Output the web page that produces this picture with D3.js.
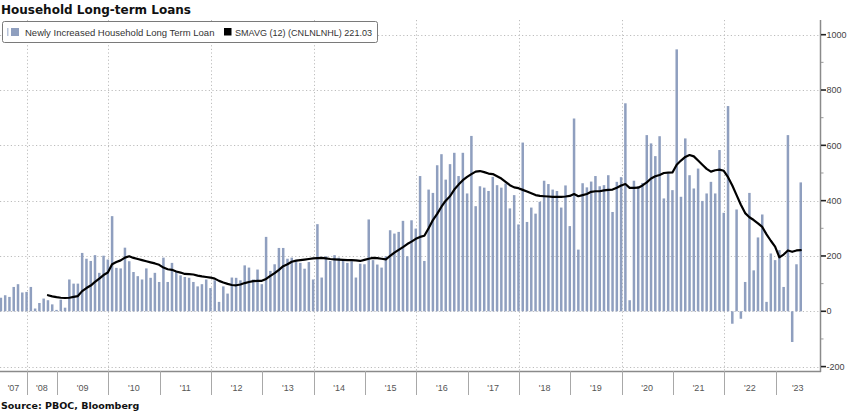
<!DOCTYPE html>
<html><head><meta charset="utf-8">
<script src="https://cdn.jsdelivr.net/npm/d3@7"></script>
<style>
body{margin:0;background:#fff;}
svg{display:block;}
</style></head><body>
<svg id="c" width="848" height="413"></svg>
<script>
// ---- data ----
const yearLabels = ["'07","'08","'09","'10","'11","'12","'13","'14","'15","'16","'17","'18","'19","'20","'21","'22","'23"];
const barsPerYear = [7,7,12,12,12,12,12,12,12,12,12,12,12,12,12,12,6];
const gridYearLabels = ["'08","'10","'12","'14","'16","'18","'20","'22"];
const loanValues = [
  49, 58, 52, 88, 98, 68, 70,                               // 2007
  88, 10, 30, 46, 40, 25, 5,                                // 2008
  42, 13, 115, 100, 100, 211, 190, 182, 203, 139, 201, 187, // 2009
  344, 157, 155, 230, 181, 142, 127, 115, 155, 121, 139, 106,
  194, 106, 175, 142, 130, 124, 121, 106, 90, 98, 115, 84,
  112, 34, 90, 64, 122, 121, 112, 166, 158, 115, 151, 98,
  269, 146, 170, 229, 229, 190, 194, 185, 175, 154, 178, 115,
  315, 122, 199, 182, 203, 194, 185, 175, 181, 122, 172, 170,
  332, 185, 169, 158, 199, 293, 281, 287, 327, 199, 329, 299,
  489, 182, 440, 428, 528, 568, 476, 532, 573, 489, 573, 426,
  634, 380, 452, 447, 435, 486, 456, 447, 462, 372, 420, 314,
  610, 323, 375, 353, 396, 472, 460, 440, 435, 375, 455, 308,
  697, 223, 463, 448, 469, 489, 452, 456, 492, 359, 468, 485,
  752, 40, 472, 452, 464, 637, 607, 561, 633, 408, 498, 438,
  947, 414, 625, 492, 444, 516, 399, 426, 468, 426, 583, 356,
  742, -45, 368, -27, 106, 428, 148, 267, 350, 34, 209, 185,
  221, 88, 637, -111, 170, 466                              // 2023
];
const smavgValues = [
  null, null, null, null, null, null, null,
  null, null, null, null, 58, 54, 51,
  49, 48, 49, 52, 55, 73, 84, 93, 106, 118, 131, 140,
  170, 178, 184, 194, 199, 193, 189, 185, 181, 177, 173, 168,
  158, 152, 150, 144, 140, 135, 134, 133, 129, 126, 124, 122,
  118, 110, 104, 99, 95, 94, 97, 102, 106, 109, 110, 110,
  117, 128, 138, 150, 163, 170, 179, 183, 185, 187, 189, 191,
  192, 193, 191, 189, 188, 187, 186, 185, 185, 184, 182, 186,
  190, 193, 192, 190, 188, 200, 212, 222, 232, 243, 252, 262,
  269, 273, 300, 330, 352, 378, 400, 416, 440, 458, 474, 486,
  496, 505, 507, 503, 498, 496, 488, 480, 468, 456, 448, 445,
  439, 433, 427, 420, 417, 416, 415, 414, 414, 414, 415, 417,
  424, 416, 420, 424, 432, 434, 434, 437, 439, 440, 447, 455,
  460, 446, 446, 447, 455, 466, 480, 488, 493, 500, 501, 502,
  530, 545, 558, 565, 560, 545, 530, 515, 505, 510, 512, 508,
  485, 455, 420, 385, 355, 340, 330, 318, 305, 278, 255, 234,
  195, 205, 220, 215, 220, 221
];
const yMajorTicks = [-200, 0, 200, 400, 600, 800, 1000];
const yMinorTicks = [-100, 100, 300, 500, 700, 900];
const titleText = "Household Long-term Loans";
const legendBarsText = "Newly Increased Household Long Term Loan";
const legendLineText = "SMAVG (12) (CNLNLNHL) 221.03";
const sourceText = "Source: PBOC, Bloomberg";

// ---- layout ----
const plotL = 0, plotR = 820, plotT = 20, plotB = 371;
const barColor = "#8f9fbf";
const svg = d3.select("#c");
svg.append("rect").attr("width", 848).attr("height", 413).attr("fill", "#fff");

const x = d3.scaleLinear().domain([-0.21, 191.5]).range([plotL, plotR]);
const y = d3.scaleLinear().domain([-200, 1000]).range([366.6, 34.7]);

// year start slot indices
const yearStart = [];
let acc = 0;
barsPerYear.forEach(n => { yearStart.push(acc); acc += n; });
const tickX = yearStart.map((s, i) => i === 0 ? plotL : x(s - 0.9));

// gridlines
const grid = svg.append("g").attr("stroke", "#bdbdbd").attr("stroke-width", 1)
  .attr("stroke-dasharray", "1.2,2.4");
grid.selectAll("line.h").data(yMajorTicks).join("line")
  .attr("x1", plotL).attr("x2", plotR)
  .attr("y1", d => Math.round(y(d)) + 0.5).attr("y2", d => Math.round(y(d)) + 0.5);
grid.selectAll("line.v").data(gridYearLabels).join("line")
  .attr("x1", d => Math.round(tickX[yearLabels.indexOf(d)]) + 0.5)
  .attr("x2", d => Math.round(tickX[yearLabels.indexOf(d)]) + 0.5)
  .attr("y1", plotT).attr("y2", plotB);

// bars
const bw = 2.5;
svg.append("g").selectAll("rect").data(loanValues).join("rect")
  .attr("x", (d, i) => x(i) - bw / 2)
  .attr("width", bw)
  .attr("y", d => Math.min(y(d), y(0)))
  .attr("height", d => Math.abs(y(d) - y(0)))
  .attr("fill", barColor);

// moving average line
const maPts = smavgValues.map((v, i) => [i, v]).filter(p => p[1] !== null);
svg.append("path").datum(maPts)
  .attr("fill", "none").attr("stroke", "#000").attr("stroke-width", 2.2)
  .attr("stroke-linejoin", "round").attr("stroke-linecap", "round")
  .attr("d", d3.line().x(p => x(p[0])).y(p => y(p[1])));

// right axis
const ax = svg.append("g");
ax.append("line").attr("x1", plotR + 0.5).attr("x2", plotR + 0.5)
  .attr("y1", plotT).attr("y2", plotB + 1).attr("stroke", "#8a8a8a").attr("stroke-width", 1.5);
ax.selectAll("line.mj").data(yMajorTicks).join("line")
  .attr("x1", plotR + 1).attr("x2", plotR + 6)
  .attr("y1", d => y(d)).attr("y2", d => y(d))
  .attr("stroke", "#222").attr("stroke-width", 1.6);
ax.selectAll("line.mn").data(yMinorTicks).join("line")
  .attr("x1", plotR + 1).attr("x2", plotR + 3.5)
  .attr("y1", d => y(d)).attr("y2", d => y(d))
  .attr("stroke", "#999").attr("stroke-width", 1);
ax.selectAll("text").data(yMajorTicks).join("text")
  .attr("x", plotR + 6.5).attr("y", d => y(d) + 3.2)
  .attr("font-family", "'Liberation Sans', Arial, sans-serif").attr("font-size", 9)
  .attr("fill", "#444").text(d => d);

// bottom axis
const bx = svg.append("g");
bx.append("line").attr("x1", plotL).attr("x2", plotR + 1)
  .attr("y1", plotB + 0.5).attr("y2", plotB + 0.5).attr("stroke", "#8a8a8a").attr("stroke-width", 1.5);
bx.selectAll("line.t").data(tickX.slice(1)).join("line")
  .attr("x1", d => Math.round(d) + 0.5).attr("x2", d => Math.round(d) + 0.5)
  .attr("y1", plotB).attr("y2", plotB + 24)
  .attr("stroke", "#a8a8a8").attr("stroke-width", 1);
bx.selectAll("text").data(yearLabels).join("text")
  .attr("x", (d, i) => ((tickX[i]) + (i + 1 < tickX.length ? tickX[i + 1] : plotR)) / 2)
  .attr("y", plotB + 20)
  .attr("text-anchor", "middle")
  .attr("font-family", "'Liberation Sans', Arial, sans-serif").attr("font-size", 9)
  .attr("fill", "#555").text(d => d);

// title
svg.append("text").attr("x", 1).attr("y", 14)
  .attr("font-family", "'DejaVu Sans', Verdana, sans-serif").attr("font-weight", "bold")
  .attr("font-size", 12).attr("fill", "#111").text(titleText);

// legend
const lg = svg.append("g");
lg.append("rect").attr("x", 2.5).attr("y", 21.5).attr("width", 375).attr("height", 21)
  .attr("rx", 2).attr("fill", "#fff").attr("stroke", "#7a7a7a").attr("stroke-width", 1);
lg.append("rect").attr("x", 7).attr("y", 28).attr("width", 1.5).attr("height", 8).attr("fill", "#b8c4da");
lg.append("rect").attr("x", 11).attr("y", 28).attr("width", 8).attr("height", 8).attr("fill", barColor);
lg.append("text").attr("x", 25).attr("y", 35.5)
  .attr("font-family", "'Liberation Sans', Arial, sans-serif").attr("font-size", 9.5)
  .attr("fill", "#333").text(legendBarsText);
lg.append("rect").attr("x", 224).attr("y", 28).attr("width", 7.5).attr("height", 7.5).attr("fill", "#000");
lg.append("text").attr("x", 235).attr("y", 35.5)
  .attr("font-family", "'Liberation Sans', Arial, sans-serif").attr("font-size", 9.5)
  .attr("textLength", 137).attr("lengthAdjust", "spacingAndGlyphs")
  .attr("fill", "#333").text(legendLineText);

// source
svg.append("text").attr("x", 1).attr("y", 409)
  .attr("font-family", "'DejaVu Sans', Verdana, sans-serif").attr("font-weight", "bold")
  .attr("font-size", 9.5).attr("fill", "#111").text(sourceText);
</script>
</body></html>
